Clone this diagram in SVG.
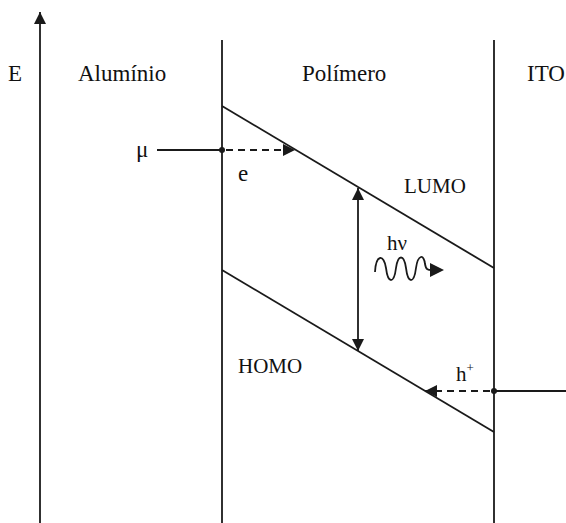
<svg xmlns="http://www.w3.org/2000/svg" width="566" height="523" viewBox="0 0 566 523">
<defs>
<marker id="ah" viewBox="0 0 10 10" refX="10" refY="5" markerWidth="16" markerHeight="12" markerUnits="userSpaceOnUse" orient="auto-start-reverse">
<path d="M0,0 L10,5 L0,10 z" fill="#1a1a1a"/>
</marker>
</defs>
<style>
.ln{stroke:#1a1a1a;stroke-width:1.8;fill:none}
.ds{stroke:#1a1a1a;stroke-width:1.8;fill:none;stroke-dasharray:7,5}
.t{font-family:"Liberation Serif","Times New Roman","DejaVu Serif",serif;fill:#111}
.lb{font-size:23px}
.sm{font-size:21px}
</style>
<rect width="566" height="523" fill="#fff"/>
<g id="axis">
<line class="ln" x1="40" y1="523" x2="40" y2="12" marker-end="url(#ah)"/>
<text class="t lb" x="8" y="81">E</text>
</g>
<g id="aluminio"><text class="t lb" x="78" y="81">Alumínio</text></g>
<g id="polimero"><text class="t lb" x="302" y="81">Polímero</text></g>
<g id="ito"><text class="t lb" x="527" y="81">ITO</text></g>
<g id="connectors">
<line class="ln" x1="222" y1="40" x2="222" y2="523"/>
<line class="ln" x1="494" y1="40" x2="494" y2="523"/>
<line class="ln" x1="222" y1="106" x2="494" y2="268"/>
<line class="ln" x1="222" y1="270" x2="494" y2="432"/>
<line class="ln" x1="157" y1="150" x2="222" y2="150"/>
<circle cx="222" cy="150" r="3" fill="#1a1a1a"/>
<line class="ds" x1="226" y1="150" x2="295" y2="150" marker-end="url(#ah)"/>
<line class="ln" x1="358" y1="188" x2="358" y2="351" marker-start="url(#ah)" marker-end="url(#ah)"/>
<path class="ln" d="M375,272 C376,254 384,254 386,268 C388,284 394,284 396,268 C398,254 404,254 406,268 C408,284 414,284 416,268 C418,254 424,254 425,264 C426,270 428,270 432,270"/>
<polygon points="430,263 444,270 430,277" fill="#1a1a1a"/>
<line class="ln" x1="494" y1="391" x2="566" y2="391"/>
<circle cx="494" cy="391" r="3" fill="#1a1a1a"/>
<line class="ds" x1="490" y1="391" x2="425" y2="391" marker-end="url(#ah)"/>
</g>
<g id="mu"><text class="t lb" x="136" y="157">μ</text></g>
<g id="e"><text class="t lb" x="238" y="181">e</text></g>
<g id="lumo"><text class="t sm" x="404" y="193">LUMO</text></g>
<g id="hv"><text class="t sm" x="387" y="250">hν</text></g>
<g id="homo"><text class="t sm" x="238" y="373">HOMO</text></g>
<g id="hplus"><text class="t sm" x="456" y="381">h<tspan font-size="13" dy="-9">+</tspan></text></g>
</svg>
